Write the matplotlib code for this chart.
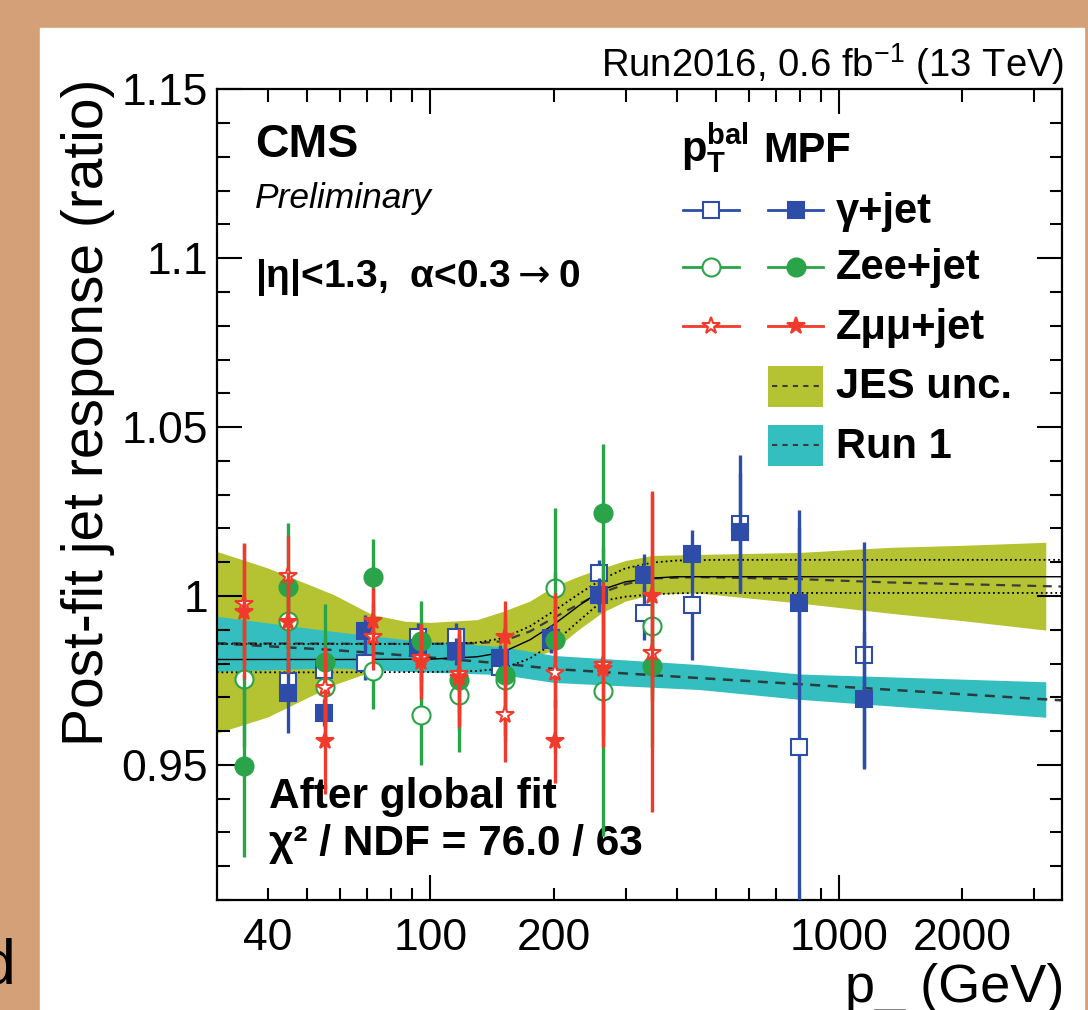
import numpy as np
import matplotlib.pyplot as plt
from matplotlib.patches import Rectangle
from matplotlib.ticker import FixedLocator, FuncFormatter, MultipleLocator

plt.rcParams['font.family'] = ['Liberation Sans', 'DejaVu Sans']
plt.rcParams['mathtext.fontset'] = 'custom'
plt.rcParams['mathtext.rm'] = 'Liberation Sans'
plt.rcParams['mathtext.bf'] = 'Liberation Sans:bold'
plt.rcParams['mathtext.it'] = 'Liberation Sans:italic'

# gamma+jet bins (pT in GeV)
pt_gj = [44.7, 54.9, 69.0, 93.3, 115.7, 147.6, 197.0, 258.0, 333.0, 436.0, 571.0, 798.0, 1150.0]
mpf_gj = [0.9713, 0.9654, 0.9895, 0.9846, 0.9836, 0.9816, 0.9871, 1.0004, 1.0063, 1.0124, 1.0189, 0.9979, 0.9694]
mpf_gj_err = [0.012, 0.004, 0.005, 0.004, 0.004, 0.004, 0.004, 0.005, 0.006, 0.0072, 0.0175, 0.0226, 0.020]
bal_gj = [0.9747, 0.9782, 0.9802, 0.9880, 0.9880, 0.9790, 0.9875, 1.0068, 0.9950, 0.9974, 1.0214, 0.9554, 0.9824]
bal_gj_err = [0.006, 0.005, 0.005, 0.004, 0.004, 0.004, 0.004, 0.004, 0.008, 0.0163, 0.0204, 0.070, 0.0335]

# Z+jet bins, shared by Zee and Zmumu
pt_zj = [34.9, 44.9, 55.3, 72.5, 95.0, 117.4, 151.8, 202.0, 264.5, 349.0]
mpf_zee = [0.9498, 1.0028, 0.9806, 1.0056, 0.9866, 0.9752, 0.9767, 0.9871, 1.0246, 0.9792]
mpf_zee_err = [0.0272, 0.0188, 0.017, 0.0113, 0.012, 0.015, 0.018, 0.020, 0.0205, 0.024]
bal_zee = [0.9755, 0.9925, 0.9732, 0.9777, 0.9649, 0.9708, 0.9750, 1.0024, 0.9718, 0.9910]
bal_zee_err = [0.020, 0.015, 0.015, 0.0113, 0.015, 0.017, 0.018, 0.0236, 0.043, 0.020]
mpf_zmm = [0.9954, 0.9922, 0.9570, 0.9925, 0.9806, 0.9757, 0.9880, 0.9570, 0.9785, 1.0000]
mpf_zmm_err = [0.020, 0.015, 0.0155, 0.010, 0.011, 0.0145, 0.0105, 0.0124, 0.020, 0.031]
bal_zmm = [0.9977, 1.0058, 0.9728, 0.9880, 0.9815, 0.9770, 0.9649, 0.9772, 0.9797, 0.9831]
bal_zmm_err = [0.018, 0.012, 0.012, 0.010, 0.010, 0.012, 0.014, 0.0237, 0.0243, 0.047]

# global fit result and its uncertainty (dotted)
fit_pt = [30, 60, 100, 130, 150, 175, 200, 230, 263, 300, 350, 400, 500, 1000, 2000, 3500]
fit_mid = [0.9812, 0.9812, 0.9813, 0.9820, 0.9833, 0.9870, 0.9915, 0.9970, 1.0019, 1.0042, 1.0053, 1.0057, 1.0057, 1.0057, 1.0057, 1.0057]
fit_up = [0.9858, 0.9858, 0.9858, 0.9862, 0.9875, 0.9910, 0.9955, 1.0005, 1.0050, 1.0082, 1.0099, 1.0105, 1.0107, 1.0107, 1.0107, 1.0107]
fit_dn = [0.9774, 0.9774, 0.9775, 0.9778, 0.9785, 0.9815, 0.9860, 0.9925, 0.9985, 0.9998, 1.0005, 1.0008, 1.0009, 1.0009, 1.0009, 1.0009]

# JES uncertainty band
jes_pt = [30, 40, 58, 72, 87, 100, 130, 150, 175, 200, 230, 263, 300, 348, 450, 800, 1330, 2000, 3200]
jes_up = [1.0132, 1.0083, 1.0004, 0.9945, 0.9925, 0.9922, 0.9930, 0.9954, 0.9985, 1.0028, 1.0058, 1.0083, 1.0105, 1.0120, 1.0123, 1.0129, 1.0144, 1.0150, 1.0159]
jes_dn = [0.9594, 0.9642, 0.9737, 0.9777, 0.9790, 0.9795, 0.9798, 0.9800, 0.9815, 0.9840, 0.9900, 0.9951, 0.9985, 1.0005, 1.0009, 0.9979, 0.9949, 0.9927, 0.9899]
jes_mid_pt = [30, 100, 130, 150, 175, 200, 230, 263, 300, 348, 450, 800, 1330, 2000, 3500]
jes_mid = [0.9860, 0.9858, 0.9860, 0.9866, 0.9895, 0.9935, 0.9975, 1.0010, 1.0035, 1.0052, 1.0056, 1.0050, 1.0040, 1.0035, 1.0028]

# Run 1 band
run1_pt = [30, 58, 87, 150, 200, 455, 800, 3200]
run1_up = [0.9940, 0.9895, 0.9871, 0.9850, 0.9824, 0.9797, 0.9769, 0.9746]
run1_dn = [0.9777, 0.9787, 0.9777, 0.9767, 0.9744, 0.9723, 0.9694, 0.9641]
run1_mid_pt = [30, 58, 87, 150, 200, 455, 800, 3500]
run1_mid = [0.9860, 0.9840, 0.9824, 0.9800, 0.9784, 0.9757, 0.9739, 0.9691]

legend_labels = ['γ+jet', 'Zee+jet', 'Zμμ+jet', 'JES unc.', 'Run 1']

BLUE = '#2E4DA8'
GREEN = '#2BA348'
RED = '#EF3A2C'
OLIVE = '#B5C333'
CYAN = '#35BEC0'
TAN = '#D4A077'

fig = plt.figure(figsize=(10.88, 10.10), dpi=100)
fig.patch.set_facecolor(TAN)
fig.add_artist(Rectangle((40 / 1088, 0), 1044 / 1088, 982 / 1010,
                         transform=fig.transFigure, color='white', zorder=-1))

ax = fig.add_axes([216.7 / 1088, 110 / 1010, 845 / 1088, 810.7 / 1010])

def px(xp, yp):
    # pixel position on the picture -> axes fraction
    return (xp - 216.7) / 845.0, (900.0 - yp) / 810.7

ax.fill_between(jes_pt, jes_dn, jes_up, color=OLIVE, lw=0, zorder=1)
ax.fill_between(run1_pt, run1_dn, run1_up, color=CYAN, lw=0, zorder=1.5)
ax.plot(jes_mid_pt, jes_mid, color='#3c3c3c', ls=(0, (4, 3)), lw=1.6, zorder=2)
ax.plot(run1_mid_pt, run1_mid, color='#2a3c3c', ls=(0, (4, 3)), lw=1.8, zorder=2)
ax.plot(fit_pt, fit_mid, color='k', lw=1.0, zorder=2.2)
ax.plot(fit_pt, fit_up, color='k', ls=':', lw=1.3, zorder=2.2)
ax.plot(fit_pt, fit_dn, color='k', ls=':', lw=1.3, zorder=2.2)

series = [
    (pt_gj, bal_gj, bal_gj_err, BLUE, 's', 12, True),
    (pt_gj, mpf_gj, mpf_gj_err, BLUE, 's', 12, False),
    (pt_zj, bal_zee, bal_zee_err, GREEN, 'o', 13, True),
    (pt_zj, mpf_zee, mpf_zee_err, GREEN, 'o', 13, False),
    (pt_zj, bal_zmm, bal_zmm_err, RED, '*', 13, True),
    (pt_zj, mpf_zmm, mpf_zmm_err, RED, '*', 13, False),
]
z = 3
for x, y, e, c, m, ms, hollow in series:
    ax.errorbar(x, y, yerr=e, fmt=m, color=c, ms=ms, mfc='white' if hollow else c,
                mec=c, mew=1.5, elinewidth=2.4, capsize=0, zorder=z)
    z += 0.1

ax.set_xscale('log')
ax.set_xlim(30, 3500)
ax.set_ylim(0.91, 1.15)
ax.xaxis.set_major_locator(FixedLocator([100, 1000]))
ax.xaxis.set_minor_locator(FixedLocator([40, 50, 60, 70, 80, 90, 200, 300, 400, 500, 600, 700, 800, 900, 2000, 3000]))
ax.xaxis.set_major_formatter(FuncFormatter(lambda v, p: f'{v:g}'))
ax.xaxis.set_minor_formatter(FuncFormatter(lambda v, p: f'{v:g}' if round(v) in (40, 200, 2000) else ''))
ax.yaxis.set_major_locator(FixedLocator([0.95, 1.0, 1.05, 1.1, 1.15]))
ax.yaxis.set_minor_locator(MultipleLocator(0.01))
ax.yaxis.set_major_formatter(FuncFormatter(lambda v, p: f'{round(v, 3):g}'))
ax.tick_params(which='both', direction='in', top=True, right=True, width=1.5, labelsize=32)
ax.tick_params(which='major', length=18)
ax.tick_params(which='minor', length=9)
ax.tick_params(axis='x', which='both', pad=13)
ax.tick_params(axis='y', which='both', pad=6)
for s in ax.spines.values():
    s.set_linewidth(1.6)

fig.text(88 / 1088, 1 - 412 / 1010, 'Post-fit jet response (ratio)', rotation=90,
         ha='center', va='center', fontsize=41)
fig.text(1064 / 1088, 1 - 1002 / 1010, 'p_ (GeV)', ha='right', va='baseline', fontsize=39)
fig.text(15 / 1088, 1 - 984 / 1010, 'd', ha='right', va='baseline', fontsize=45)

ax.text(1.0027, 1.0152, r'Run2016, 0.6 fb$^{\mathregular{-1}}$ (13 TeV)', transform=ax.transAxes,
        ha='right', va='baseline', fontsize=27.5)
ax.text(*px(255, 157), 'CMS', transform=ax.transAxes, fontsize=33.5, fontweight='bold', va='baseline')
ax.text(*px(255, 208), 'Preliminary', transform=ax.transAxes, fontsize=25.5, style='italic', va='baseline')
ax.text(*px(255, 287), r'|η|<1.3,  α<0.3$\rightarrow$0', transform=ax.transAxes, fontsize=28,
        fontweight='bold', va='baseline', math_fontfamily='dejavusans')
ax.text(*px(269, 808), 'After global fit', transform=ax.transAxes, fontsize=30.5, fontweight='bold', va='baseline')
ax.text(*px(269, 855), 'χ² / NDF = 76.0 / 63', transform=ax.transAxes, fontsize=30.5, fontweight='bold', va='baseline')

# legend, drawn by hand
ax.text(*px(681, 161), r'$\mathbf{p}_\mathbf{T}^\mathbf{bal}$', transform=ax.transAxes, fontsize=30, va='baseline')
ax.text(*px(763.6, 161.7), 'MPF', transform=ax.transAxes, fontsize=30, fontweight='bold', va='baseline')
rows = [210, 266.7, 326, 386, 445.5]
styles = [(BLUE, 's', 12), (GREEN, 'o', 13), (RED, '*', 13)]
for (c, m, ms), yr in zip(styles, rows[:3]):
    for x0, x1, xm, hollow in [(683, 739, 711, True), (768, 823, 795.6, False)]:
        a0, b = px(x0, yr)
        a1, _ = px(x1, yr)
        am, _ = px(xm, yr)
        ax.plot([a0, a1], [b, b], color=c, lw=2.0, transform=ax.transAxes, clip_on=False, zorder=6)
        ax.plot([am], [b], m, color=c, ms=ms, mfc='white' if hollow else c, mec=c, mew=1.5,
                transform=ax.transAxes, clip_on=False, zorder=7)
for c, yr in zip([OLIVE, CYAN], rows[3:]):
    a0, b0 = px(768, yr + 20.5)
    ax.add_patch(Rectangle((a0, b0), 55 / 845, 41 / 810.7, transform=ax.transAxes,
                           color=c, lw=0, clip_on=False, zorder=6))
    a0, b = px(772, yr)
    a1, _ = px(820, yr)
    ax.plot([a0, a1], [b, b], color='#3c3c3c', ls=(0, (2.5, 2.5)), lw=1.5,
            transform=ax.transAxes, clip_on=False, zorder=7)
for lab, yr in zip(legend_labels, rows):
    ax.text(*px(835.5, yr + 12.5), lab, transform=ax.transAxes, fontsize=30,
            fontweight='bold', va='baseline')

plt.savefig('out.png', dpi=100, facecolor=fig.get_facecolor())
